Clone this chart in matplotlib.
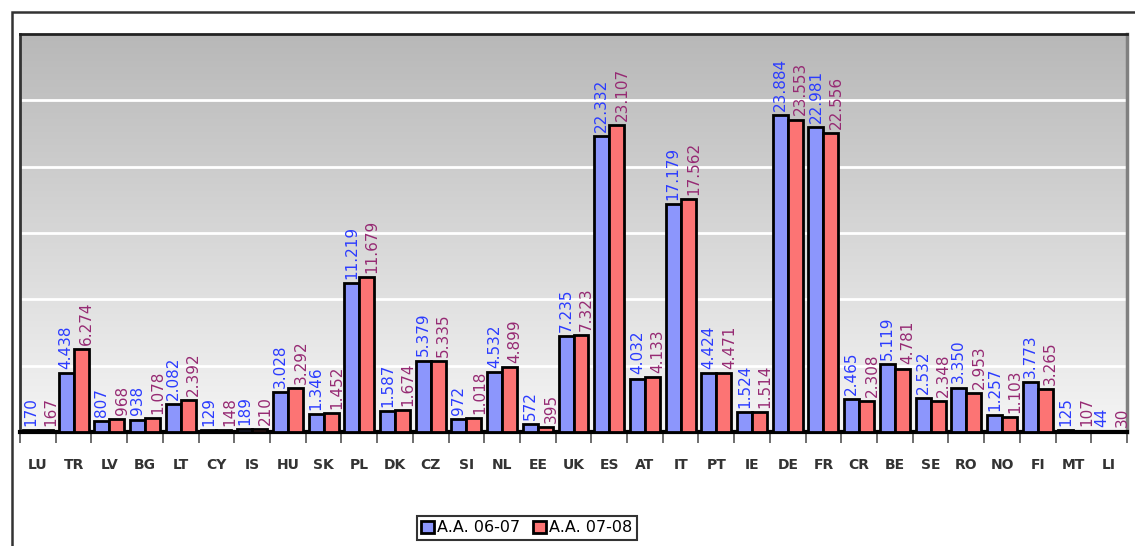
import numpy as np
import matplotlib as mpl
mpl.use('Agg')
import matplotlib.pyplot as plt
from matplotlib.patches import Rectangle

## data
countries = ['LU', 'TR', 'LV', 'BG', 'LT', 'CY', 'IS', 'HU', 'SK', 'PL', 'DK', 'CZ', 'SI', 'NL', 'EE', 'UK',
             'ES', 'AT', 'IT', 'PT', 'IE', 'DE', 'FR', 'CR', 'BE', 'SE', 'RO', 'NO', 'FI', 'MT', 'LI']
aa_0607 = [170, 4438, 807, 938, 2082, 129, 189, 3028, 1346, 11219, 1587, 5379, 972, 4532, 572, 7235,
           22332, 4032, 17179, 4424, 1524, 23884, 22981, 2465, 5119, 2532, 3350, 1257, 3773, 125, 44]
aa_0708 = [167, 6274, 968, 1078, 2392, 148, 210, 3292, 1452, 11679, 1674, 5335, 1018, 4899, 395, 7323,
           23107, 4133, 17562, 4471, 1514, 23553, 22556, 2308, 4781, 2348, 2953, 1103, 3265, 107, 30]
series_names = ['A.A. 06-07', 'A.A. 07-08']

def fmt(v):
    return '{:,}'.format(v).replace(',', '.')

W, H = 1135, 546
fig = plt.figure(figsize=(W / 100, H / 100), dpi=100)
fig.patch.set_facecolor('white')

# outer chart border
fig.patches.append(Rectangle((12 / W, -0.1), 1.2, (H - 12) / H + 0.1, transform=fig.transFigure,
                             fill=False, edgecolor='#333333', linewidth=1.8))

ax = fig.add_axes([20 / W, (H - 432) / H, (1127 - 20) / W, (432 - 34) / H])

n = len(countries)
x = np.arange(n)
ymax = 30000

# gradient background
grad = np.linspace(0, 1, 256).reshape(-1, 1)
cmap = mpl.colors.LinearSegmentedColormap.from_list('bg', ['#f5f5f5', '#b8b8b8'])
ax.imshow(grad, extent=[-0.5, n - 0.5, 0, ymax], origin='lower', aspect='auto', cmap=cmap, zorder=0)

for yv in range(5000, ymax, 5000):
    ax.axhline(yv, color='white', linewidth=2, zorder=1)

w = 0.42
b1 = ax.bar(x - w / 2, aa_0607, w, color='#8c96fc', edgecolor='black', linewidth=2, zorder=3,
            label=series_names[0])
b2 = ax.bar(x + w / 2, aa_0708, w, color='#fc7474', edgecolor='black', linewidth=2, zorder=3,
            label=series_names[1])

for i in range(n):
    ax.annotate(fmt(aa_0607[i]), (x[i] - w / 2, aa_0607[i]), xytext=(0, 3), textcoords='offset points',
                rotation=90, ha='center', va='bottom', fontsize=11, color='#2b3bff', zorder=4)
    ax.annotate(fmt(aa_0708[i]), (x[i] + w / 2, aa_0708[i]), xytext=(4, 3), textcoords='offset points',
                rotation=90, ha='center', va='bottom', fontsize=11, color='#962a73', zorder=4)

ax.set_xlim(-0.5, n - 0.5)
ax.set_ylim(0, ymax)
ax.set_yticks([])

# ticks at category boundaries, labels at centers
ax.set_xticks(np.arange(n + 1) - 0.5)
ax.set_xticklabels([])
ax.set_xticks(x, minor=True)
ax.set_xticklabels(countries, minor=True, fontsize=10, fontweight='bold', color='#333333')
ax.tick_params(axis='x', which='major', length=8, width=1.2, color='#555555', direction='out')
ax.tick_params(axis='x', which='minor', length=0, pad=19)

ax.spines['bottom'].set_linewidth(3)
ax.spines['bottom'].set_color('black')
ax.spines['left'].set_linewidth(2)
ax.spines['left'].set_color('#333333')
ax.spines['top'].set_linewidth(2)
ax.spines['top'].set_color('#222222')
ax.spines['right'].set_linewidth(2.5)
ax.spines['right'].set_color('#808080')

leg = fig.legend(handles=[b1, b2], labels=series_names, loc='center', bbox_to_anchor=(527 / W, (H - 528) / H),
                 ncol=2, fontsize=11.5, frameon=True, fancybox=False, edgecolor='black',
                 handlelength=0.8, handleheight=0.8, handletextpad=0.2, columnspacing=0.8,
                 borderpad=0.3)
leg.get_frame().set_linewidth(1.5)

fig.savefig('out.png', dpi=100)
